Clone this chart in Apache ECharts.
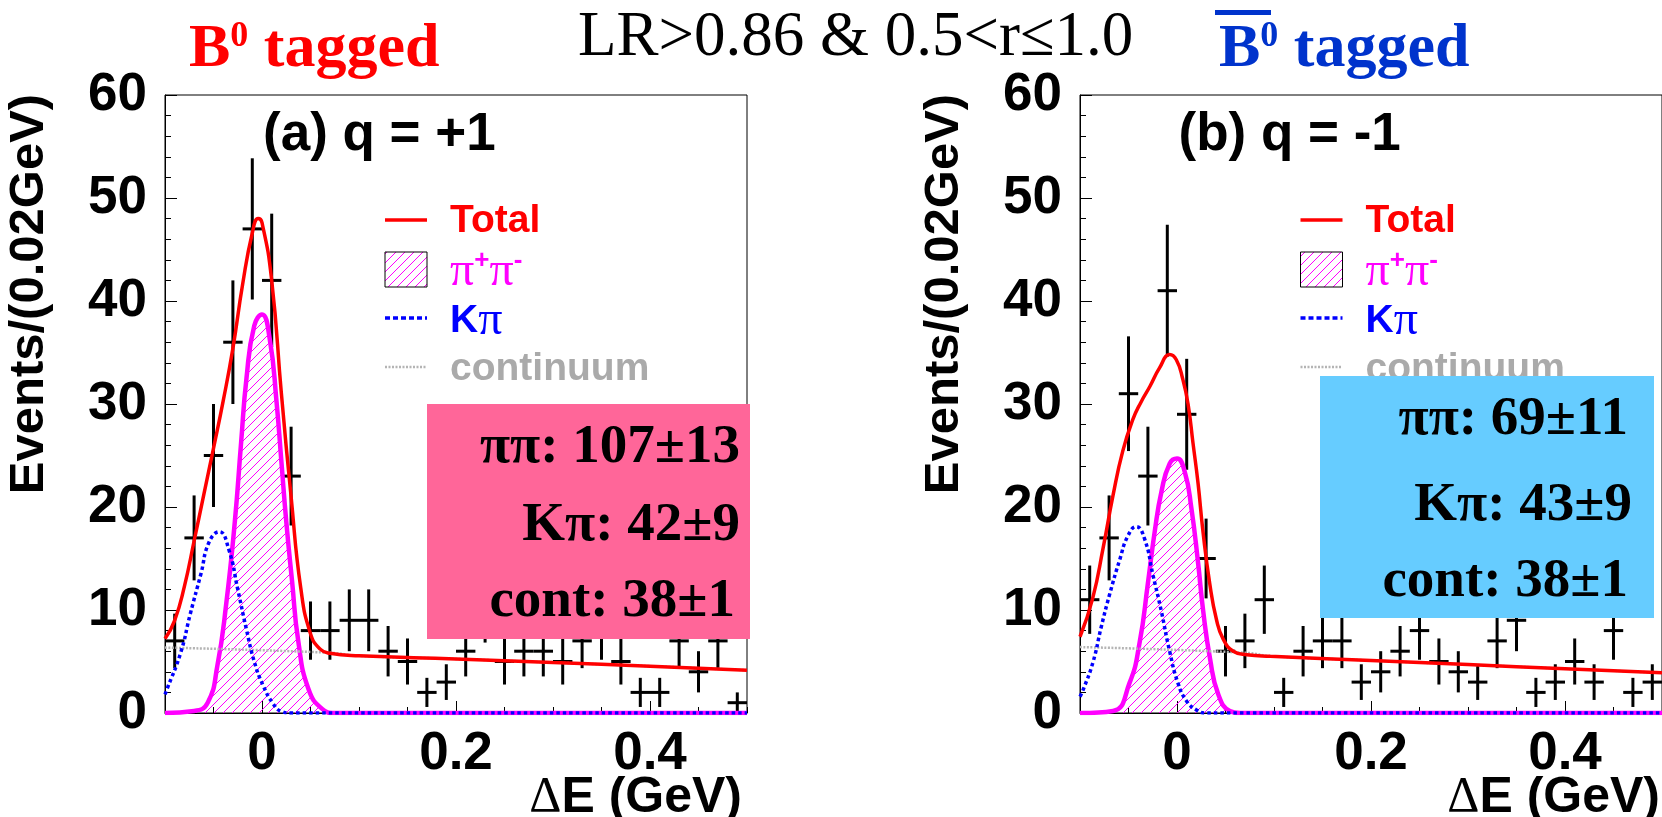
<!DOCTYPE html>
<html>
<head>
<meta charset="utf-8">
<script src="https://cdn.jsdelivr.net/npm/echarts@6/dist/echarts.min.js"></script>
<style>
  html, body { margin: 0; padding: 0; background: #fff; }
  #chart { width: 1662px; height: 817px; }
</style>
</head>
<body>
<div id="chart"></div>
<script>
// ---- Data: ΔE histograms, 0.02 GeV bins ----
const binCenters = [-0.09, -0.07, -0.05, -0.03, -0.01, 0.01, 0.03, 0.05, 0.07, 0.09,
                    0.11, 0.13, 0.15, 0.17, 0.19, 0.21, 0.23, 0.25, 0.27, 0.29,
                    0.31, 0.33, 0.35, 0.37, 0.39, 0.41, 0.43, 0.45, 0.47, 0.49];
const countsQplus  = [7, 17, 25, 36, 47, 42, 23, 8, 8, 9,
                      9, 6, 5, 2, 3, 6, 10, 5, 6, 6,
                      5, 7, 8, 5, 2, 2, 7, 4, 7, 1];
const countsQminus = [11, 17, 31, 23, 41, 29, 15, 6, 7, 11,
                      2, 6, 7, 7, 3, 4, 6, 8, 5, 4,
                      3, 7, 9, 2, 3, 5, 3, 8, 2, 3];

// ---- Fitted components, [ΔE, events] ----
const totalQplus = [[-0.1, 7.2], [-0.09, 9.0], [-0.08, 12.3], [-0.07, 16.7], [-0.06, 21.2], [-0.05, 25.7],
  [-0.04, 30.3], [-0.03, 35.4], [-0.02, 41.6], [-0.01, 46.6], [-0.004, 48.0], [0.0, 47.6], [0.01, 42.0],
  [0.02, 31.0], [0.03, 21.0], [0.04, 12.1], [0.05, 7.7], [0.06, 6.2], [0.07, 5.8], [0.1, 5.55],
  [0.2, 5.25], [0.3, 4.9], [0.4, 4.55], [0.5, 4.15]];
const pipiQplus = [[-0.1, 0], [-0.07, 0.2], [-0.056, 1.0], [-0.046, 4.6], [-0.037, 10.5], [-0.028, 18.6],
  [-0.0215, 26.3], [-0.016, 32.5], [-0.008, 37.6], [0.0, 38.7], [0.008, 36.3], [0.015, 30.2], [0.02, 24.4],
  [0.025, 18.6], [0.031, 12.8], [0.0375, 6.9], [0.048, 2.3], [0.062, 0.4], [0.075, 0], [0.5, 0]];
const kpiQplus = [[-0.1, 1.8], [-0.098, 2.3], [-0.084, 5.8], [-0.074, 9.6], [-0.063, 13.5], [-0.0545, 16.6],
  [-0.044, 17.6], [-0.034, 15.8], [-0.025, 12.0], [-0.016, 8.1], [-0.008, 5.0], [0.001, 2.7],
  [0.0115, 0.9], [0.02, 0.15], [0.03, 0], [0.5, 0]];
const contQplus = [[-0.1, 6.35], [0.07, 5.85], [0.1, 5.55], [0.2, 5.25], [0.3, 4.9], [0.4, 4.55], [0.5, 4.15]];

const totalQminus = [[-0.1, 7.4], [-0.087, 11.1], [-0.076, 16.1], [-0.066, 21.1], [-0.056, 25.4],
  [-0.0455, 28.5], [-0.037, 30.2], [-0.028, 31.7], [-0.018, 33.5], [-0.0076, 34.8], [-0.0007, 34.3],
  [0.006, 32.4], [0.0114, 30.0], [0.0165, 26.2], [0.0217, 22.3], [0.0268, 17.6], [0.0337, 12.6],
  [0.0406, 9.1], [0.0475, 7.2], [0.058, 6.0], [0.072, 5.65], [0.096, 5.5], [0.2, 5.1], [0.3, 4.7],
  [0.4, 4.3], [0.5, 3.9]];
const pipiQminus = [[-0.1, 0], [-0.066, 0.2], [-0.049, 2.9], [-0.0386, 6.8], [-0.03, 12.6], [-0.023, 17.6],
  [-0.016, 21.5], [-0.0076, 24.2], [0.0, 24.7], [0.008, 23.4], [0.0148, 19.9], [0.0217, 14.6],
  [0.027, 9.9], [0.034, 5.3], [0.0426, 1.8], [0.0544, 0.2], [0.065, 0], [0.5, 0]];
const kpiQminus = [[-0.1, 1.6], [-0.097, 2.2], [-0.0867, 4.9], [-0.078, 8.4], [-0.0695, 11.5], [-0.059, 14.9],
  [-0.0506, 17.2], [-0.042, 18.1], [-0.0334, 16.9], [-0.0248, 13.4], [-0.0162, 9.9], [-0.0076, 6.0],
  [0.001, 2.9], [0.0096, 1.2], [0.02, 0.3], [0.03, 0], [0.5, 0]];
const contQminus = [[-0.1, 6.4], [0.07, 5.85], [0.1, 5.5], [0.2, 5.1], [0.3, 4.7], [0.4, 4.3], [0.5, 3.9]];

// ---- Axis ticks and labels ----
const xMajorTicks = [0, 0.2, 0.4];
const yTickLabels = ['0', '10', '20', '30', '40', '50', '60'];

// ---- Text ----
const panelLabels = ['(a) q = +1', '(b) q = -1'];
const yieldsQplus  = ['ππ: 107±13', 'Kπ: 42±9', 'cont: 38±1'];
const yieldsQminus = ['ππ: 69±11', 'Kπ: 43±9', 'cont: 38±1'];
const selectionTitle = 'LR>0.86 & 0.5<r≤1.0';

const SANS = '"Liberation Sans", Arial, Helvetica, sans-serif';
const SERIF = '"Liberation Serif", "Times New Roman", Times, serif';
const HALF_BIN = 0.01;

// Diagonal hatch used for the π+π− component
function makeHatch() {
  const c = document.createElement('canvas');
  c.width = 9; c.height = 9;
  const g = c.getContext('2d');
  g.strokeStyle = '#ff00ff';
  g.lineWidth = 1;
  g.beginPath();
  g.moveTo(0, 9); g.lineTo(9, 0);
  g.moveTo(-1, 1); g.lineTo(1, -1);
  g.moveTo(8, 10); g.lineTo(10, 8);
  g.stroke();
  return c;
}
const hatchFill = { image: makeHatch(), repeat: 'repeat' };

// Data points with Poisson error bars and bin-width horizontal bars
function renderCross(params, api) {
  const x = api.value(0), n = api.value(1);
  const e = Math.sqrt(n);
  const top = api.coord([x, n + e]);
  const bot = api.coord([x, Math.max(n - e, 0)]);
  const l = api.coord([x - HALF_BIN, n]);
  const r = api.coord([x + HALF_BIN, n]);
  const style = { stroke: '#000', lineWidth: 3 };
  return {
    type: 'group',
    children: [
      { type: 'line', shape: { x1: top[0], y1: top[1], x2: bot[0], y2: bot[1] }, style },
      { type: 'line', shape: { x1: l[0], y1: l[1], x2: r[0], y2: r[1] }, style }
    ]
  };
}

const grids = [
  { left: 165, top: 95, width: 582, height: 618 },
  { left: 1080, top: 95, width: 582, height: 618 }
].map(g => Object.assign(g, { show: true, borderColor: '#000', borderWidth: 1 }));

function xAxesFor(gridIndex) {
  return [
    { type: 'value', gridIndex, min: -0.1, max: 0.5, interval: 0.05,
      axisLine: { onZero: false, lineStyle: { color: '#000', width: 1 } },
      axisTick: { inside: true, length: 6, lineStyle: { color: '#000', width: 1 } },
      axisLabel: { show: false }, splitLine: { show: false } },
    { type: 'value', gridIndex, min: -0.1, max: 0.5, position: 'bottom',
      axisLine: { show: false, onZero: false },
      axisTick: { inside: true, length: 12, customValues: xMajorTicks, lineStyle: { color: '#000', width: 1 } },
      axisLabel: { customValues: xMajorTicks, formatter: v => String(Math.round(v * 10) / 10),
        fontSize: 53, fontWeight: 'bold', fontFamily: SANS, color: '#000', margin: 15 },
      splitLine: { show: false } }
  ];
}
function yAxisFor(gridIndex) {
  return { type: 'value', gridIndex, min: 0, max: 60, interval: 10,
    axisLine: { show: true, onZero: false, lineStyle: { color: '#000', width: 1 } },
    axisTick: { show: true, inside: true, length: 12, lineStyle: { color: '#000', width: 1 } },
    minorTick: { show: true, splitNumber: 5, length: 6, lineStyle: { color: '#000', width: 1 } },
    axisLabel: { formatter: v => yTickLabels[Math.round(v / 10)], fontSize: 53, fontWeight: 'bold',
      fontFamily: SANS, color: '#000', margin: 18 },
    splitLine: { show: false }, minorSplitLine: { show: false } };
}

function panelSeries(gridIdx, counts, total, pipi, kpi, cont) {
  const xi = gridIdx * 2, yi = gridIdx;
  const base = { type: 'line', xAxisIndex: xi, yAxisIndex: yi, symbol: 'none', showSymbol: false,
    smooth: 0.5, animation: false };
  return [
    { type: 'custom', xAxisIndex: xi, yAxisIndex: yi, renderItem: renderCross, clip: true,
      data: binCenters.map((c, i) => [c, counts[i]]), encode: { x: 0, y: 1 }, z: 2, animation: false },
    Object.assign({}, base, { name: 'π+π−', data: pipi, z: 3,
      lineStyle: { color: '#ff00ff', width: 4.5 }, areaStyle: { color: hatchFill, opacity: 1 } }),
    Object.assign({}, base, { name: 'continuum', data: cont, z: 3,
      lineStyle: { color: '#b4b4b4', width: 2.5, type: [2, 1.5] } }),
    Object.assign({}, base, { name: 'Kπ', data: kpi, z: 4,
      lineStyle: { color: '#0000ff', width: 3.5, type: [3.5, 3] } }),
    Object.assign({}, base, { name: 'Total', data: total, z: 5,
      lineStyle: { color: '#ff0000', width: 3.5 } })
  ];
}

// Legend block drawn inside each panel
function legendFor(dx) {
  const x1 = 385 + dx, x2 = 427 + dx, tx = 450 + dx;
  return [
    { type: 'line', z: 50, shape: { x1, y1: 220, x2, y2: 220 }, style: { stroke: '#ff0000', lineWidth: 3.5 } },
    { type: 'text', z: 50, x: tx, y: 221, style: { text: 'Total', font: 'bold 39px ' + SANS, fill: '#ff0000', verticalAlign: 'middle' } },
    { type: 'rect', z: 50, shape: { x: x1, y: 252, width: 42, height: 35 }, style: { fill: hatchFill, stroke: '#000', lineWidth: 1 } },
    { type: 'text', z: 50, x: tx, y: 272, style: { text: '{p|π}{s|+}{p|π}{s|-}', verticalAlign: 'middle',
      rich: { p: { font: '48px ' + SERIF, fill: '#ff00ff' }, s: { font: 'bold 26px ' + SANS, fill: '#ff00ff', verticalAlign: 'top' } } } },
    { type: 'line', z: 50, shape: { x1, y1: 318, x2, y2: 318 }, style: { stroke: '#0000ff', lineWidth: 3.5, lineDash: [5, 3] } },
    { type: 'text', z: 50, x: tx, y: 321, style: { text: '{k|K}{p|π}', verticalAlign: 'middle',
      rich: { k: { font: 'bold 39px ' + SANS, fill: '#0000ff' }, p: { font: '48px ' + SERIF, fill: '#0000ff' } } } },
    { type: 'line', z: 50, shape: { x1, y1: 367, x2, y2: 367 }, style: { stroke: '#b4b4b4', lineWidth: 2.5, lineDash: [2, 1.5] } },
    { type: 'text', z: 50, x: tx, y: 369.5, style: { text: 'continuum', font: 'bold 39px ' + SANS, fill: '#aaaaaa', verticalAlign: 'middle' } }
  ];
}

// Fit-yield box
function yieldBox(rect, color, lines, rights, mids) {
  const els = [{ type: 'rect', z: 100, shape: rect, style: { fill: color } }];
  lines.forEach((t, i) => els.push({ type: 'text', z: 101, x: rights[i], y: mids[i],
    style: { text: t, font: 'bold 55px ' + SERIF, fill: '#000', align: 'right', verticalAlign: 'middle' } }));
  return els;
}

function axisTitles(dx, rightEdge) {
  return [
    { type: 'text', z: 50, x: 29 + dx, y: 294, rotation: Math.PI / 2,
      style: { text: 'Events/(0.02GeV)', font: 'bold 49px ' + SANS, fill: '#000', align: 'center', verticalAlign: 'middle' } },
    { type: 'text', z: 50, x: rightEdge, y: 798, style: { text: '{d|Δ}{t|E (GeV)}', align: 'right', verticalAlign: 'middle',
      rich: { d: { font: '50px ' + SERIF, fill: '#000' }, t: { font: 'bold 50px ' + SANS, fill: '#000' } } } },
    { type: 'text', z: 50, x: 263 + dx, y: 135,
      style: { text: panelLabels[dx ? 1 : 0], font: 'bold 53px ' + SANS, fill: '#000', verticalAlign: 'middle' } }
  ];
}

const graphics = [].concat(
  legendFor(0), legendFor(915.5),
  axisTitles(0, 742), axisTitles(915.5, 1660),
  yieldBox({ x: 427, y: 404, width: 323, height: 235 }, '#ff6699', yieldsQplus, [740, 740, 735], [448, 526, 602]),
  yieldBox({ x: 1320, y: 376, width: 334, height: 242 }, '#66ccff', yieldsQminus, [1628, 1632, 1628], [420, 506, 582]),
  [
    { type: 'text', z: 50, x: 189, y: 50, style: { text: '{b|B}{s|0}{b| tagged}', verticalAlign: 'middle',
      rich: { b: { font: 'bold 62px ' + SERIF, fill: '#ff0000' }, s: { font: 'bold 36px ' + SERIF, fill: '#ff0000', verticalAlign: 'top' } } } },
    { type: 'text', z: 50, x: 578, y: 38, style: { text: selectionTitle, font: '63px ' + SERIF, fill: '#000', verticalAlign: 'middle' } },
    { type: 'text', z: 50, x: 1219, y: 50, style: { text: '{b|B}{s|0}{b| tagged}', verticalAlign: 'middle',
      rich: { b: { font: 'bold 62px ' + SERIF, fill: '#0033cc' }, s: { font: 'bold 36px ' + SERIF, fill: '#0033cc', verticalAlign: 'top' } } } },
    { type: 'rect', z: 50, shape: { x: 1215, y: 10, width: 56, height: 5 }, style: { fill: '#0033cc' } }
  ]
);

const chart = echarts.init(document.getElementById('chart'), null, { renderer: 'canvas' });
chart.setOption({
  animation: false,
  backgroundColor: '#fff',
  grid: grids,
  xAxis: xAxesFor(0).concat(xAxesFor(1)),
  yAxis: [yAxisFor(0), yAxisFor(1)],
  series: panelSeries(0, countsQplus, totalQplus, pipiQplus, kpiQplus, contQplus)
    .concat(panelSeries(1, countsQminus, totalQminus, pipiQminus, kpiQminus, contQminus)),
  graphic: graphics
});
</script>
</body>
</html>
